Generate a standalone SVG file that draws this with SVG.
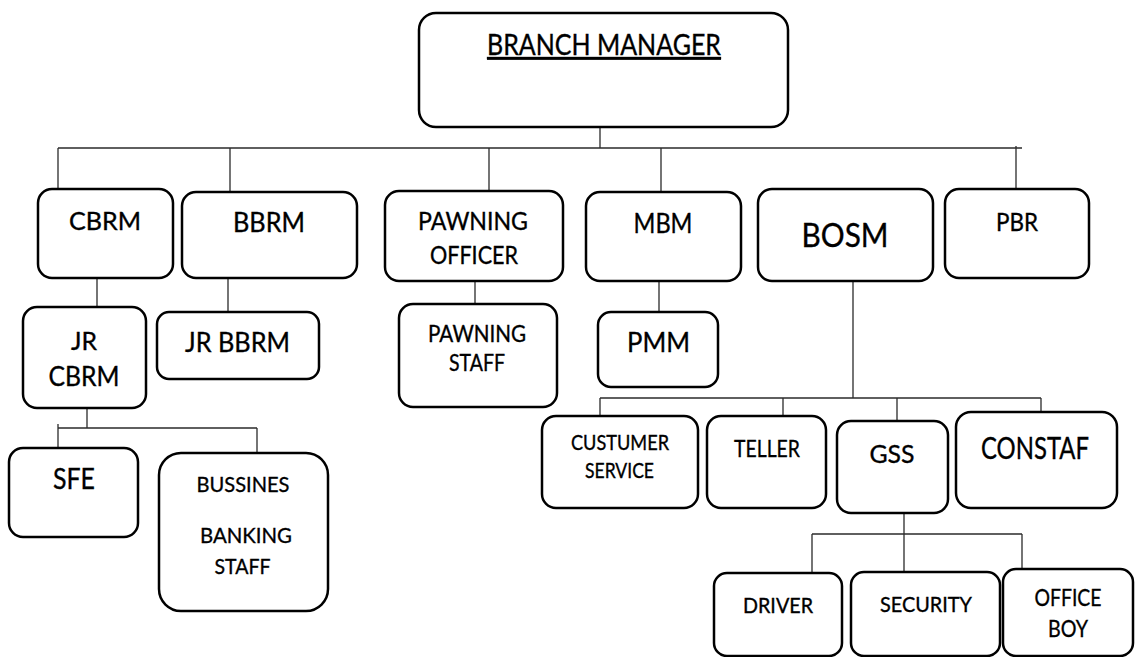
<svg xmlns="http://www.w3.org/2000/svg" width="1136" height="657" viewBox="0 0 1136 657">
<style>
.box{fill:#fff;stroke:#000;stroke-width:2.5}
.lbl{font-family:"Lato","Liberation Sans",sans-serif;fill:#000;stroke:#000;stroke-width:0.35;text-anchor:middle}
.conn{fill:none;stroke:#2b2b2b;stroke-width:1.3}
</style>
<rect width="1136" height="657" fill="#fff"/>
<g id="connectors" class="conn">
<path d="M600,127V148M58,148H1022M58,148V190M230,148V192M489,148V191M661,148V192M1016,146V189"/>
<path d="M97,278V307M228,278V312M475,281V304M659,281V312"/>
<path d="M853,281V398M600,398H1041M600,398V416M783,398V416M897,398V421M1041,398V412"/>
<path d="M87,400V428M58,428H257M58,424V448M257,428V453"/>
<path d="M904,513V572M812,534H1022M812,534V573M1022,534V569"/>
</g>
<g id="branch-manager"><rect class="box" x="419" y="13" width="369" height="114" rx="17"/><text class="lbl" x="604" y="55" font-size="28" text-decoration="underline" textLength="234" lengthAdjust="spacingAndGlyphs">BRANCH MANAGER</text></g>
<g id="cbrm"><rect class="box" x="38" y="189" width="135" height="89" rx="14"/><text class="lbl" x="105" y="230" font-size="25" textLength="72" lengthAdjust="spacingAndGlyphs">CBRM</text></g>
<g id="bbrm"><rect class="box" x="182" y="192" width="175" height="86" rx="14"/><text class="lbl" x="269" y="232" font-size="26" textLength="72" lengthAdjust="spacingAndGlyphs">BBRM</text></g>
<g id="pawning-officer"><rect class="box" x="385" y="191" width="178" height="90" rx="14"/><text class="lbl" x="473" y="230" font-size="25" textLength="110" lengthAdjust="spacingAndGlyphs">PAWNING</text><text class="lbl" x="474" y="264" font-size="25" textLength="88" lengthAdjust="spacingAndGlyphs">OFFICER</text></g>
<g id="mbm"><rect class="box" x="586" y="192" width="155" height="89" rx="14"/><text class="lbl" x="663" y="233" font-size="27" textLength="59" lengthAdjust="spacingAndGlyphs">MBM</text></g>
<g id="bosm"><rect class="box" x="758" y="189" width="175" height="92" rx="14"/><text class="lbl" x="845" y="247" font-size="32" textLength="87" lengthAdjust="spacingAndGlyphs">BOSM</text></g>
<g id="pbr"><rect class="box" x="945" y="189" width="144" height="89" rx="14"/><text class="lbl" x="1017" y="231" font-size="25" textLength="42" lengthAdjust="spacingAndGlyphs">PBR</text></g>
<g id="jr-cbrm"><rect class="box" x="23" y="307" width="123" height="101" rx="14"/><text class="lbl" x="84" y="350" font-size="25" textLength="26" lengthAdjust="spacingAndGlyphs">JR</text><text class="lbl" x="84" y="386" font-size="27" textLength="71" lengthAdjust="spacingAndGlyphs">CBRM</text></g>
<g id="jr-bbrm"><rect class="box" x="157" y="312" width="162" height="67" rx="12"/><text class="lbl" x="237.5" y="352" font-size="27" textLength="105" lengthAdjust="spacingAndGlyphs">JR BBRM</text></g>
<g id="pawning-staff"><rect class="box" x="399" y="304" width="158" height="103" rx="14"/><text class="lbl" x="477" y="342" font-size="23.5" textLength="98" lengthAdjust="spacingAndGlyphs">PAWNING</text><text class="lbl" x="477" y="371" font-size="23.5" textLength="56" lengthAdjust="spacingAndGlyphs">STAFF</text></g>
<g id="pmm"><rect class="box" x="598" y="312" width="120" height="75" rx="13"/><text class="lbl" x="658.5" y="352" font-size="27" textLength="63" lengthAdjust="spacingAndGlyphs">PMM</text></g>
<g id="sfe"><rect class="box" x="9" y="448" width="129" height="89" rx="14"/><text class="lbl" x="74" y="489" font-size="29" textLength="42" lengthAdjust="spacingAndGlyphs">SFE</text></g>
<g id="bussines-banking-staff"><rect class="box" x="159" y="453" width="169" height="158" rx="22"/><text class="lbl" x="243" y="492" font-size="22" textLength="93" lengthAdjust="spacingAndGlyphs">BUSSINES</text><text class="lbl" x="246" y="543" font-size="22" textLength="92" lengthAdjust="spacingAndGlyphs">BANKING</text><text class="lbl" x="242.5" y="574" font-size="22" textLength="56" lengthAdjust="spacingAndGlyphs">STAFF</text></g>
<g id="custumer-service"><rect class="box" x="542" y="416" width="156" height="92" rx="14"/><text class="lbl" x="620" y="450" font-size="21" textLength="98" lengthAdjust="spacingAndGlyphs">CUSTUMER</text><text class="lbl" x="619.5" y="478" font-size="21" textLength="69" lengthAdjust="spacingAndGlyphs">SERVICE</text></g>
<g id="teller"><rect class="box" x="707" y="416" width="119" height="92" rx="14"/><text class="lbl" x="767" y="457" font-size="23.5" textLength="66" lengthAdjust="spacingAndGlyphs">TELLER</text></g>
<g id="gss"><rect class="box" x="837" y="421" width="111" height="92" rx="14"/><text class="lbl" x="892" y="463" font-size="25" textLength="45" lengthAdjust="spacingAndGlyphs">GSS</text></g>
<g id="constaf"><rect class="box" x="956" y="412" width="161" height="96" rx="15"/><text class="lbl" x="1035" y="459" font-size="30" textLength="108" lengthAdjust="spacingAndGlyphs">CONSTAF</text></g>
<g id="driver"><rect class="box" x="714" y="573" width="128" height="83" rx="13"/><text class="lbl" x="778" y="613" font-size="21" textLength="70" lengthAdjust="spacingAndGlyphs">DRIVER</text></g>
<g id="security"><rect class="box" x="851" y="572" width="149" height="84" rx="13"/><text class="lbl" x="926" y="612" font-size="21" textLength="92" lengthAdjust="spacingAndGlyphs">SECURITY</text></g>
<g id="office-boy"><rect class="box" x="1003" y="569" width="130" height="87" rx="13"/><text class="lbl" x="1068" y="606" font-size="23" textLength="67" lengthAdjust="spacingAndGlyphs">OFFICE</text><text class="lbl" x="1068" y="637" font-size="23" textLength="40" lengthAdjust="spacingAndGlyphs">BOY</text></g>
</svg>
